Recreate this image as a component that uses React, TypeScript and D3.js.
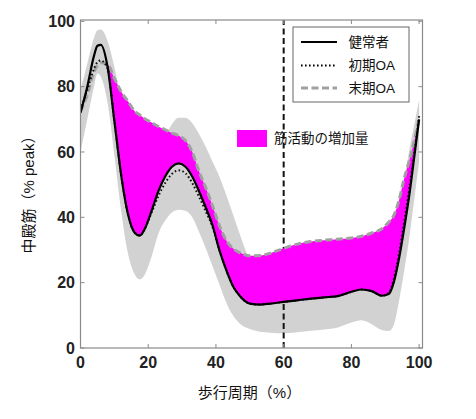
import React from "react";
import * as d3 from "d3";

// gait cycle (%) sample positions
const X_PCT = [0, 2, 4, 5, 6, 8, 10, 12, 14, 16, 17.5, 19, 21, 23, 25, 27, 29, 31, 33, 35, 37, 39, 41, 43, 45, 47, 50, 53, 56, 60, 64, 68, 72, 76, 80, 83, 86, 89, 91, 92.5, 94, 95.5, 97, 98.5, 100];
// healthy (solid black)
const HEALTHY = [72, 80, 89.5, 92.5, 92.8, 86, 69.5, 53, 41, 35.3, 34.4, 36.5, 42, 48, 52.5, 55.5, 56.5, 55.5, 52.5, 48, 43, 37.5, 30, 24, 19, 16, 13.6, 13.3, 13.6, 14.1, 14.6, 15.1, 15.5, 15.9, 17.2, 17.9, 17.4, 16, 16.5, 20, 27, 36, 46, 58, 70];
// early OA (dotted)
const EARLY_OA = [73, 79, 85.5, 87.5, 88, 85.5, 69.5, 53, 41, 35.3, 34.4, 36.5, 41.5, 46.5, 50.5, 53.3, 54.4, 53.5, 50.5, 46.3, 41.8, 37, 30, 24, 19, 16, 13.6, 13.3, 13.6, 14.1, 14.6, 15.1, 15.5, 15.9, 17.2, 17.9, 17.4, 16, 16.8, 21, 28.5, 38, 48, 59, 71];
// late OA (dashed gray)
const LATE_OA = [72.5, 77.5, 84.5, 86.5, 87.3, 86.8, 82.5, 78.5, 75.5, 72.5, 71.3, 70.2, 69, 67.8, 66.8, 65.8, 65, 63.5, 60, 54, 49, 43.5, 37.5, 33, 30.5, 29.2, 28.2, 28.3, 29, 30.5, 31.8, 32.6, 33, 33.3, 33.7, 34.2, 35.2, 36.5, 38.5, 40.5, 45, 51.5, 57, 63, 70.5];
// healthy ± SD band
const BAND_UPPER = [79, 87, 95, 97.3, 97.5, 94, 86, 76, 65, 57, 54, 53, 55, 60, 64.5, 68.5, 70.5, 70.5, 68.8, 65.5, 61.5, 57, 52.5, 47, 41, 35, 27, 24, 23.5, 24, 24.5, 25, 25.5, 26, 27.5, 28, 28, 27, 28, 32, 40, 50, 60, 68, 76];
const BAND_LOWER = [60, 70, 80, 84, 83, 75, 59, 42, 29, 22.5, 21, 22.5, 28, 35, 39, 41.5, 42.3, 42, 40, 35.5, 30.5, 25, 19.5, 14, 10, 7.5, 5.8, 5, 4.7, 4.5, 4.8, 5.3, 5.7, 6.3, 7.8, 8.5, 7.3, 5.5, 5.2, 7, 14, 23, 33, 45, 57];

const X_TICKS = [0, 20, 40, 60, 80, 100];
const Y_TICKS = [0, 20, 40, 60, 80, 100];
const EVENT_X = 60;
const LEGEND_LABELS = ["健常者", "初期OA", "末期OA"];
const FILL_LABEL = "筋活動の増加量";
const X_TITLE = "歩行周期（%）";
const Y_TITLE = "中殿筋（% peak）";

const FONT = "'Liberation Sans', Arial, 'Noto Sans CJK JP', sans-serif";

export default function App() {
  const x = d3.scaleLinear().domain([0, 101]).range([80.5, 422.5]);
  const y = d3.scaleLinear().domain([0, 100.4]).range([348, 20]);
  const [x0, x1] = x.range();
  const [yb, yt] = y.range();

  const idx = X_PCT.map((_, i) => i);
  const curve = d3.curveMonotoneX;
  const line = (vals: number[]) =>
    d3.line<number>().x((i) => x(X_PCT[i])).y((i) => y(vals[i])).curve(curve)(idx) || "";
  const band =
    d3.area<number>().x((i) => x(X_PCT[i])).y0((i) => y(BAND_LOWER[i])).y1((i) => y(BAND_UPPER[i])).curve(curve)(idx) || "";
  const gain =
    d3.area<number>().x((i) => x(X_PCT[i])).y0((i) => y(HEALTHY[i])).y1((i) => y(LATE_OA[i])).curve(curve)(idx) || "";

  // first crossing where late OA rises above healthy
  let cross = 0;
  for (let i = 1; i < X_PCT.length; i++) {
    const a = LATE_OA[i - 1] - HEALTHY[i - 1];
    const b = LATE_OA[i] - HEALTHY[i];
    if (a < 0 && b >= 0) {
      cross = X_PCT[i - 1] + ((X_PCT[i] - X_PCT[i - 1]) * -a) / (b - a);
      break;
    }
  }

  const tickLen = 4;
  const frame = "#8a8a8a";

  const lg = { x: 293, y: 27, w: 116, h: 75 };
  const legendRows = [
    { label: LEGEND_LABELS[0], stroke: "#000", width: 2.2, dash: "" },
    { label: LEGEND_LABELS[1], stroke: "#000", width: 2, dash: "1.6,2.4" },
    { label: LEGEND_LABELS[2], stroke: "#a0a0a0", width: 3, dash: "7,3.5" },
  ];

  return (
    <svg width={476} height={419} style={{ position: "absolute", left: 0, top: 0, background: "#fff" }} fontFamily={FONT}>
      <defs>
        <clipPath id="plotclip">
          <rect x={x0} y={yt} width={x1 - x0} height={yb - yt} />
        </clipPath>
        <clipPath id="gainclip">
          <rect x={x(cross)} y={yt} width={x1 - x(cross)} height={yb - yt} />
        </clipPath>
      </defs>

      <g clipPath="url(#plotclip)">
        <path d={band} fill="#d2d2d2" />
        <line x1={x(EVENT_X)} x2={x(EVENT_X)} y1={yb} y2={yt} stroke="#111" strokeWidth={2} strokeDasharray="6,3.5" />
        <path d={gain} fill="#ff00ff" clipPath="url(#gainclip)" />
        <path d={line(LATE_OA)} fill="none" stroke="#a0a0a0" strokeWidth={3} strokeDasharray="7,3.5" />
        <path d={line(EARLY_OA)} fill="none" stroke="#111" strokeWidth={2} strokeDasharray="1.6,2.4" />
        <path d={line(HEALTHY)} fill="none" stroke="#000" strokeWidth={2.2} />
      </g>

      {/* frame */}
      <rect x={x0} y={yt} width={x1 - x0} height={yb - yt} fill="none" stroke={frame} strokeWidth={1.2} />
      {X_TICKS.map((t) => (
        <g key={"xt" + t}>
          <line x1={x(t)} x2={x(t)} y1={yb} y2={yb - tickLen} stroke={frame} />
          <line x1={x(t)} x2={x(t)} y1={yt} y2={yt + tickLen} stroke={frame} />
          <text x={x(t)} y={368} textAnchor="middle" fontSize={16} fontWeight="bold" fill="#222">{t}</text>
        </g>
      ))}
      {Y_TICKS.map((t) => (
        <g key={"yt" + t}>
          <line x1={x0} x2={x0 + tickLen} y1={y(t)} y2={y(t)} stroke={frame} />
          <line x1={x1} x2={x1 - tickLen} y1={y(t)} y2={y(t)} stroke={frame} />
          <text x={75} y={y(t)} dy="0.36em" textAnchor="end" fontSize={16} fontWeight="bold" fill="#222">{t}</text>
        </g>
      ))}

      {/* titles */}
      <text x={249.5} y={398} textAnchor="middle" fontSize={15} fill="#111">{X_TITLE}</text>
      <text transform="translate(29,191) rotate(-90)" textAnchor="middle" dy="0.36em" fontSize={15} fill="#111">{Y_TITLE}</text>

      {/* legend */}
      <rect x={lg.x} y={lg.y} width={lg.w} height={lg.h} fill="#fff" stroke="#666" strokeWidth={1} />
      {legendRows.map((r, i) => {
        const ly = [42, 65.5, 88][i];
        return (
          <g key={r.label}>
            <line x1={301} x2={337} y1={ly} y2={ly} stroke={r.stroke} strokeWidth={r.width} strokeDasharray={r.dash || undefined} />
            <text x={348.5} y={ly} dy="0.36em" fontSize={13.5} fill="#111">{r.label}</text>
          </g>
        );
      })}
      <rect x={237} y={130} width={30} height={17} fill="#ff00ff" />
      <text x={274} y={138.5} dy="0.36em" fontSize={13.5} fill="#111">{FILL_LABEL}</text>
    </svg>
  );
}
